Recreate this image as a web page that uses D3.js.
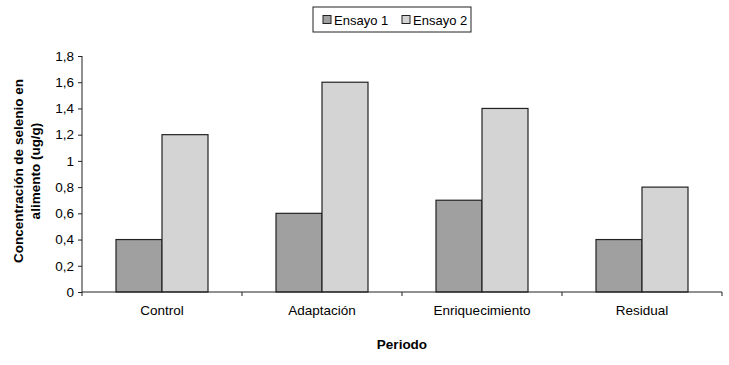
<!DOCTYPE html>
<meta charset="utf-8">
<style>
  body { margin: 0; background: #fff; }
  text { font-family: "Liberation Sans", Arial, sans-serif; fill: #000; }
  .bar { stroke: #222; stroke-width: 1.2px; }
</style>
<body>
<script src="https://cdn.jsdelivr.net/npm/d3@7"></script>
<script>
  var categories = ["Control", "Adaptación", "Enriquecimiento", "Residual"];
  var series = ["Ensayo 1", "Ensayo 2"];
  var ensayo1 = [0.4, 0.6, 0.7, 0.4];
  var ensayo2 = [1.2, 1.6, 1.4, 0.8];
  var yTicks = [0, 0.2, 0.4, 0.6, 0.8, 1, 1.2, 1.4, 1.6, 1.8];
  var colors = ["#a0a0a0", "#d4d4d4"];

  var W = 729, H = 365;
  var margin = { top: 56, right: 7, bottom: 73, left: 82 },
    width = W - margin.left - margin.right,
    height = H - margin.top - margin.bottom;

  var svg = d3.select("body").append("svg")
    .attr("width", W).attr("height", H);
  var g = svg.append("g")
    .attr("transform", "translate(" + margin.left + "," + margin.top + ")");

  var x = d3.scaleBand().domain(categories).range([0, width]).paddingInner(0).paddingOuter(0);
  var x1 = d3.scaleBand().domain(series).range([34, x.bandwidth() - 34]);
  var y = d3.scaleLinear().domain([0, 1.8]).range([height, 0]);

  var data = categories.map((c, i) => ({ cat: c, vals: [ensayo1[i], ensayo2[i]] }));

  // bars
  var groups = g.selectAll(".grp").data(data).enter().append("g")
    .attr("transform", d => "translate(" + x(d.cat) + ",0)");
  groups.selectAll("rect").data(d => d.vals.map((v, j) => ({ s: series[j], v: v, j: j })))
    .enter().append("rect")
    .attr("class", "bar")
    .attr("x", d => x1(d.s))
    .attr("y", d => y(d.v))
    .attr("width", x1.bandwidth())
    .attr("height", d => height - y(d.v))
    .attr("fill", d => colors[d.j]);

  // y axis
  var yAxis = g.append("g")
    .call(d3.axisLeft(y).tickValues(yTicks).tickSize(4).tickPadding(4)
      .tickFormat(d => String(d).replace(".", ",")));
  yAxis.selectAll("text").style("font-size", "13.5px");
  yAxis.select(".domain").attr("d", "M0," + height + "V0").attr("stroke", "#222");
  yAxis.selectAll(".tick line").attr("stroke", "#222");

  // x axis
  var xAxis = g.append("g").attr("transform", "translate(0," + height + ")");
  xAxis.append("line").attr("x1", 0).attr("x2", width).attr("stroke", "#222");
  var bounds = categories.map(c => x(c)).concat([width]);
  xAxis.selectAll(".xt").data(bounds).enter().append("line")
    .attr("x1", d => d).attr("x2", d => d).attr("y1", 0).attr("y2", 4)
    .attr("stroke", "#222");
  xAxis.selectAll(".xl").data(categories).enter().append("text")
    .attr("x", d => x(d) + x.bandwidth() / 2)
    .attr("y", 23)
    .attr("text-anchor", "middle")
    .style("font-size", "13.5px")
    .text(d => d);

  // axis titles
  svg.append("text")
    .attr("x", margin.left + width / 2).attr("y", 349)
    .attr("text-anchor", "middle")
    .style("font-size", "13.5px").style("font-weight", "bold")
    .text("Periodo");
  var yt = svg.append("text")
    .attr("transform", "translate(23,171) rotate(-90)")
    .attr("text-anchor", "middle")
    .style("font-size", "13.5px").style("font-weight", "bold");
  yt.append("tspan").attr("x", 0).attr("y", 0).text("Concentración de selenio en");
  yt.append("tspan").attr("x", 0).attr("y", 17).text("alimento (ug/g)");

  // legend
  var leg = svg.append("g").attr("transform", "translate(313,7)");
  leg.append("rect").attr("width", 158).attr("height", 25)
    .attr("fill", "#fff").attr("stroke", "#222").attr("stroke-width", 1);
  var items = leg.selectAll(".li").data(series).enter().append("g")
    .attr("transform", (d, i) => "translate(" + (10 + i * 79) + ",0)");
  items.append("rect").attr("y", 8.5).attr("width", 8).attr("height", 8)
    .attr("fill", (d, i) => colors[i]).attr("stroke", "#222");
  items.append("text").attr("x", 11).attr("y", 17.5)
    .style("font-size", "13px").text(d => d);
</script>
</body>
